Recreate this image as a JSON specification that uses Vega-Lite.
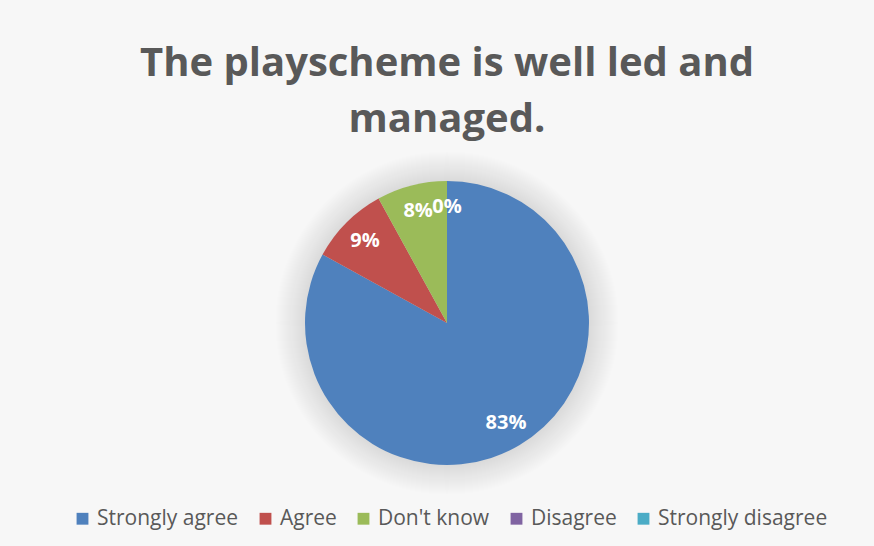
{
  "$schema": "https://vega.github.io/schema/vega-lite/v6.json",
  "width": 284,
  "height": 284,
  "autosize": {"type": "none"},
  "padding": {"left": 305, "top": 181, "right": 285, "bottom": 81},
  "background": "#f7f7f7",
  "config": {"view": {"stroke": null}, "font": "Open Sans"},
  "title": {
    "text": ["The playscheme is well led and", "managed."],
    "font": "Open Sans",
    "fontSize": 40,
    "fontWeight": "bold",
    "color": "#595959",
    "anchor": "middle",
    "offset": 11,
    "lineHeight": 56
  },
  "data": {
    "values": [
      {"response": "Strongly agree", "share": 0.83, "idx": 1},
      {"response": "Agree", "share": 0.09, "idx": 2},
      {"response": "Don't know", "share": 0.08, "idx": 3},
      {"response": "Disagree", "share": 0, "idx": 4},
      {"response": "Strongly disagree", "share": 0, "idx": 5}
    ]
  },
  "layer": [
    {
      "transform": [{"aggregate": [{"op": "count", "as": "n"}]}],
      "mark": {
        "type": "arc",
        "theta": 0,
        "theta2": 6.2832,
        "outerRadius": 172,
        "fill": {
          "gradient": "radial",
          "x1": 0.5, "y1": 0.5, "x2": 0.5, "y2": 0.5, "r1": 0, "r2": 0.5,
          "stops": [
            {"offset": 0, "color": "rgba(0,0,0,0.15)"},
            {"offset": 0.82, "color": "rgba(0,0,0,0.12)"},
            {"offset": 1, "color": "rgba(0,0,0,0)"}
          ]
        }
      },
      "encoding": {}
    },
    {
      "mark": {"type": "arc", "outerRadius": 142},
      "encoding": {
        "theta": {"field": "share", "type": "quantitative", "stack": true},
        "order": {"field": "idx", "type": "quantitative"},
        "color": {
          "field": "response",
          "type": "nominal",
          "scale": {
            "domain": ["Strongly agree", "Agree", "Don't know", "Disagree", "Strongly disagree"],
            "range": ["#4F81BD", "#C0504D", "#9BBB59", "#8064A2", "#4BACC6"]
          },
          "legend": {
            "title": null,
            "orient": "none",
            "legendX": -233,
            "legendY": 327,
            "direction": "horizontal",
            "symbolType": "square",
            "symbolSize": 140,
            "symbolStrokeWidth": 0,
            "labelFont": "Open Sans",
            "labelFontSize": 21,
            "labelColor": "#595959",
            "labelOffset": 4,
            "columnPadding": 16,
            "labelLimit": 300
          }
        }
      }
    },
    {
      "transform": [{"filter": "datum.idx != 5"}],
      "mark": {
        "type": "text",
        "radius": 116,
        "font": "Open Sans",
        "fontSize": 20,
        "fontWeight": "bold",
        "fill": "white"
      },
      "encoding": {
        "theta": {"field": "share", "type": "quantitative", "stack": true},
        "order": {"field": "idx", "type": "quantitative"},
        "text": {"field": "share", "type": "quantitative", "format": ".0%"}
      }
    }
  ]
}
